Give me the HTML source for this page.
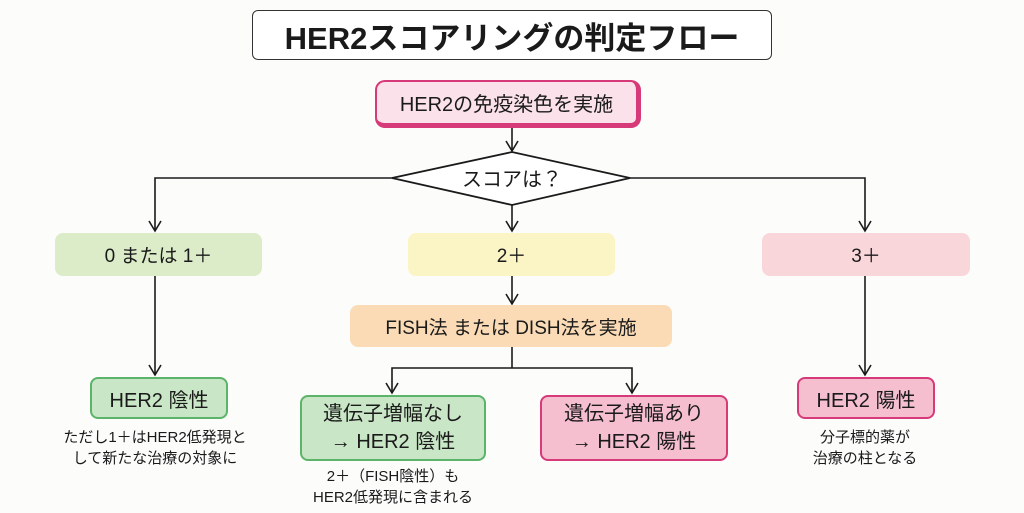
<!DOCTYPE html>
<html><head><meta charset="utf-8"><style>
body{margin:0;width:1024px;height:513px;background:#fcfcfb;position:relative;overflow:hidden;font-family:"Liberation Sans","Noto Sans CJK JP",sans-serif;color:#1a1a1a}
.b{position:absolute;box-sizing:border-box;display:flex;align-items:center;justify-content:center;text-align:center}
.t{position:absolute;text-align:center;font-size:15px;line-height:21px}
svg{position:absolute;left:0;top:0}
</style></head><body>
<svg width="1024" height="513">
<g stroke="#1a1a1a" stroke-width="1.6" fill="none">
<line x1="512" y1="127" x2="512" y2="151"/><polyline points="506,141 512,151 518,141"/>
<polyline points="392,178 155,178 155,231"/><polyline points="149,221 155,231 161,221"/>
<polyline points="630,178 865,178 865,231"/><polyline points="859,221 865,231 871,221"/>
<line x1="512" y1="205" x2="512" y2="231"/><polyline points="506,221 512,231 518,221"/>
<line x1="155" y1="276" x2="155" y2="375"/><polyline points="149,365 155,375 161,365"/>
<line x1="512" y1="276" x2="512" y2="304"/><polyline points="506,294 512,304 518,294"/>
<line x1="865" y1="276" x2="865" y2="375"/><polyline points="859,365 865,375 871,365"/>
<line x1="512" y1="346" x2="512" y2="368"/>
<polyline points="392,393 392,368 632,368 632,393"/>
<polyline points="386,383 392,393 398,383"/><polyline points="626,383 632,393 638,383"/>
</g>
<polygon points="392,178 512,152 630,178 512,205" fill="#fff" stroke="#1a1a1a" stroke-width="1.8"/>
<text x="512" y="186" text-anchor="middle" font-size="20" font-family="Liberation Sans,Noto Sans CJK JP,sans-serif" fill="#1a1a1a">スコアは？</text>
</svg>
<div class="b" style="left:252px;top:10px;width:520px;height:50px;border:1.5px solid #333;border-radius:6px;background:#fff;font-size:31px;font-weight:bold">HER2スコアリングの判定フロー</div>
<div class="b" style="left:375px;top:80px;width:266px;height:48px;border:2.5px solid #d63a78;border-right-width:5px;border-bottom-width:5px;border-radius:10px;background:#fbe1ea;font-size:20px">HER2の免疫染色を実施</div>
<div class="b" style="left:55px;top:233px;width:207px;height:43px;border-radius:8px;background:#dcecc9;font-size:19px">0 または 1＋</div>
<div class="b" style="left:408px;top:233px;width:207px;height:43px;border-radius:8px;background:#fbf4c5;font-size:19px">2＋</div>
<div class="b" style="left:762px;top:233px;width:208px;height:43px;border-radius:8px;background:#f9d6da;font-size:19px">3＋</div>
<div class="b" style="left:350px;top:305px;width:322px;height:42px;border-radius:8px;background:#fbdbb6;font-size:19px">FISH法 または DISH法を実施</div>
<div class="b" style="left:90px;top:377px;width:138px;height:42px;border:2.5px solid #5cb36a;border-radius:8px;background:#c9e6c6;font-size:20px">HER2 陰性</div>
<div class="b" style="left:300px;top:395px;width:186px;height:66px;border:2.5px solid #5cb36a;border-radius:8px;background:#c9e6c6;font-size:20px;line-height:28px">遺伝子増幅なし<br>→ HER2 陰性</div>
<div class="b" style="left:540px;top:395px;width:188px;height:66px;border:2.5px solid #d63a78;border-radius:8px;background:#f5bfd0;font-size:20px;line-height:28px">遺伝子増幅あり<br>→ HER2 陽性</div>
<div class="b" style="left:797px;top:377px;width:138px;height:42px;border:2.5px solid #d63a78;border-radius:8px;background:#f5bfd0;font-size:20px">HER2 陽性</div>
<div class="t" style="left:40px;top:427px;width:230px">ただし1＋はHER2低発現と<br>して新たな治療の対象に</div>
<div class="t" style="left:283px;top:466px;width:220px">2＋（FISH陰性）も<br>HER2低発現に含まれる</div>
<div class="t" style="left:765px;top:427px;width:200px">分子標的薬が<br>治療の柱となる</div>
</body></html>
